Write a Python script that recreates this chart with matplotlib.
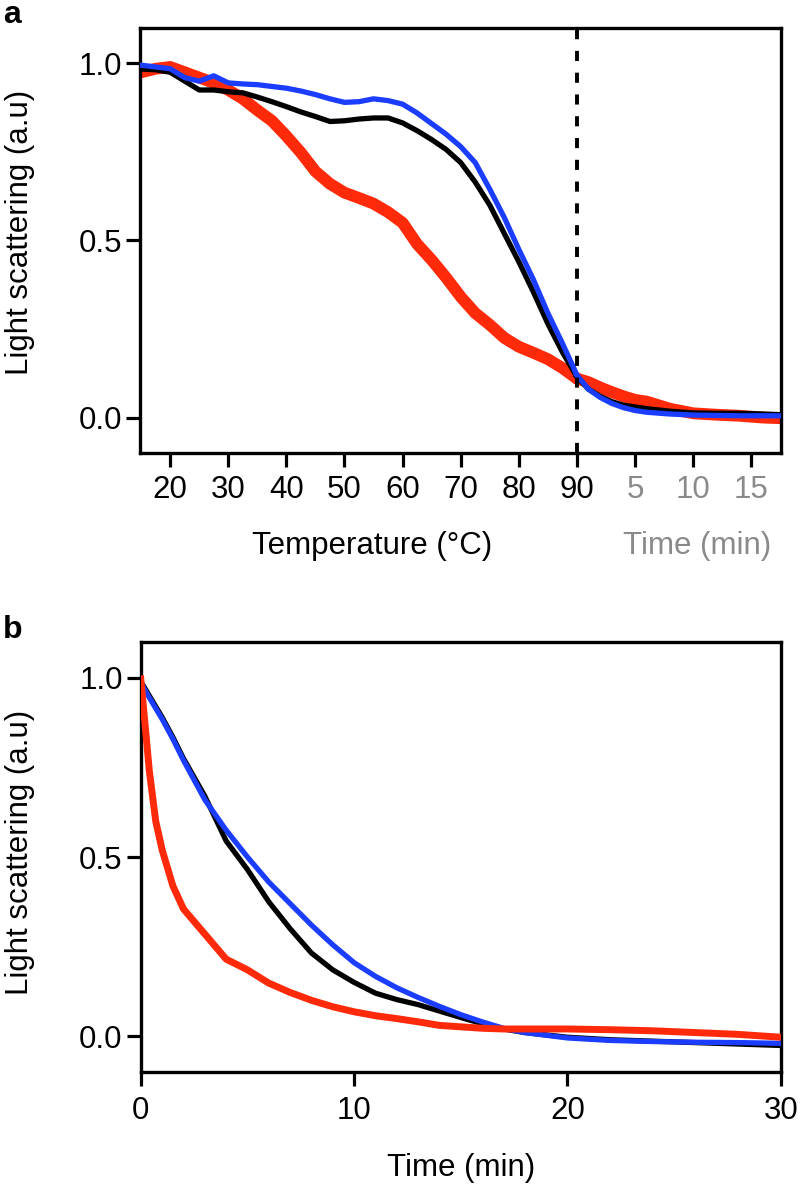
import matplotlib
matplotlib.use("Agg")
import matplotlib.pyplot as plt
import numpy as np

plt.rcParams['font.family'] = ['Liberation Sans', 'DejaVu Sans']

# ---------------- Panel a data ----------------
temp_a = [15, 17.5, 20, 22.5, 25, 27.5, 30, 32.5, 35, 37.5, 40, 42.5, 45, 47.5, 50,
          52.5, 55, 57.5, 60, 62.5, 65, 67.5, 70, 72.5, 75, 77.5, 80, 82.5, 85, 87.5, 90]
blue_a_temp = [0.995, 0.99, 0.985, 0.96, 0.95, 0.965, 0.945, 0.942, 0.94, 0.935, 0.93, 0.922,
               0.912, 0.90, 0.89, 0.892, 0.90, 0.895, 0.885, 0.86, 0.83, 0.80, 0.765, 0.72,
               0.645, 0.565, 0.475, 0.39, 0.295, 0.21, 0.12]
black_a_temp = [0.984, 0.982, 0.975, 0.95, 0.925, 0.925, 0.92, 0.917, 0.905, 0.892, 0.878, 0.863,
                0.85, 0.836, 0.838, 0.843, 0.846, 0.846, 0.832, 0.81, 0.785, 0.757, 0.72, 0.665,
                0.60, 0.52, 0.44, 0.355, 0.265, 0.185, 0.115]
red_a_temp = [0.975, 0.985, 0.99, 0.975, 0.96, 0.945, 0.925, 0.90, 0.868, 0.838, 0.795, 0.748,
              0.695, 0.66, 0.635, 0.62, 0.604, 0.58, 0.55, 0.49, 0.445, 0.395, 0.341, 0.295,
              0.262, 0.225, 0.20, 0.183, 0.165, 0.14, 0.11]

time_a = [0, 1, 2, 3, 4, 5, 6, 8, 10, 12, 14, 16, 17.6]
blue_a_time = [0.12, 0.08, 0.057, 0.04, 0.028, 0.02, 0.015, 0.01, 0.007, 0.006, 0.005, 0.005, 0.005]
black_a_time = [0.115, 0.08, 0.06, 0.045, 0.035, 0.03, 0.025, 0.018, 0.013, 0.012, 0.012, 0.01, 0.008]
red_a_time = [0.11, 0.10, 0.085, 0.072, 0.06, 0.05, 0.045, 0.025, 0.012, 0.008, 0.005, 0.0, -0.002]

temp_ticks = [20, 30, 40, 50, 60, 70, 80, 90]
time_ticks_a = [5, 10, 15]

# ---------------- Panel b data ----------------
time_b = [0, 0.2, 0.4, 0.7, 1, 1.5, 2, 3, 4, 5, 6, 7, 8, 9, 10, 11, 12, 13, 14, 15, 16,
          17, 18, 20, 22, 24, 26, 28, 30]
blue_b = [0.987, 0.965, 0.945, 0.915, 0.885, 0.83, 0.77, 0.66, 0.575, 0.50, 0.43, 0.37, 0.31,
          0.255, 0.205, 0.167, 0.135, 0.108, 0.083, 0.06, 0.04, 0.022, 0.01, -0.005, -0.012,
          -0.015, -0.017, -0.018, -0.02]
black_b = [0.99, 0.97, 0.95, 0.92, 0.89, 0.835, 0.775, 0.67, 0.545, 0.465, 0.375, 0.30, 0.232,
           0.185, 0.15, 0.12, 0.102, 0.088, 0.07, 0.052, 0.035, 0.02, 0.01, -0.003, -0.01,
           -0.014, -0.018, -0.022, -0.026]
red_b = [0.997, 0.87, 0.74, 0.60, 0.52, 0.42, 0.355, 0.285, 0.215, 0.185, 0.148, 0.122, 0.10,
         0.082, 0.068, 0.057, 0.049, 0.04, 0.03, 0.026, 0.022, 0.02, 0.02, 0.02, 0.018, 0.015,
         0.01, 0.005, -0.003]

y_ticks = [0.0, 0.5, 1.0]

RED = '#ff2a0a'
BLUE = '#1a3dff'
BLACK = '#000000'
GRAY = '#8a8a8a'
FS = 22.5


def t2x(t):
    # time axis after 90 °C: 5 min spans the same width as 10 °C
    return 90 + 2 * np.asarray(t, dtype=float)


fig = plt.figure(figsize=(8, 11.87), dpi=100)
ax1 = fig.add_axes([0.175, 0.6184, 0.801, 0.358])
ax2 = fig.add_axes([0.176, 0.0969, 0.800, 0.3622])

for ax in (ax1, ax2):
    for sp in ax.spines.values():
        sp.set_linewidth(2.4)
    ax.tick_params(axis='both', length=10, width=2.3, labelsize=FS, pad=3, direction='out')
    ax.set_ylim(-0.1, 1.1)
    ax.set_yticks(y_ticks)
    ax.set_yticklabels(['0.0', '0.5', '1.0'])

# ----- panel a -----
ax1.plot(temp_a, red_a_temp, color=RED, lw=8.5, solid_capstyle='round', zorder=2)
ax1.plot(t2x(time_a), red_a_time, color=RED, lw=8.5, solid_capstyle='round', zorder=2)
ax1.plot(temp_a, black_a_temp, color=BLACK, lw=3.8, zorder=3)
ax1.plot(t2x(time_a), black_a_time, color=BLACK, lw=3.8, zorder=3)
ax1.plot(temp_a, blue_a_temp, color=BLUE, lw=3.8, zorder=4)
ax1.plot(t2x(time_a), blue_a_time, color=BLUE, lw=3.8, zorder=4)
ax1.axvline(90, color=BLACK, lw=2.8, linestyle=(0, (2.6, 3.0)), zorder=5)

ax1.set_xlim(14.8, t2x(17.55))
xt = list(temp_ticks) + list(t2x(time_ticks_a))
ax1.set_xticks(xt)
ax1.set_xticklabels([str(v) for v in temp_ticks] + [str(v) for v in time_ticks_a])
ax1.tick_params(axis='x', pad=6)
for lab, v in zip(ax1.get_xticklabels(), xt):
    if v > 90:
        lab.set_color(GRAY)

ax1.text(54.7, -0.385, 'Temperature (°C)', fontsize=FS, ha='center', va='baseline',
         transform=ax1.transData, clip_on=False)
ax1.text(110.7, -0.385, 'Time (min)', fontsize=FS, ha='center', va='baseline',
         color=GRAY, transform=ax1.transData, clip_on=False)

# ----- panel b -----
ax2.plot(time_b, black_b, color=BLACK, lw=3.8, zorder=3)
ax2.plot(time_b, blue_b, color=BLUE, lw=3.8, zorder=4)
ax2.plot(time_b, red_b, color=RED, lw=5, zorder=5)
ax2.set_xlim(0, 30)
ax2.set_xticks([0, 10, 20, 30])
ax2.tick_params(axis='x', pad=7)
ax2.set_xlabel('Time (min)', fontsize=FS, labelpad=20)

# y labels
fig.text(20 / 800, 1 - 232 / 1187, 'Light scattering (a.u)', rotation=90, fontsize=FS,
         ha='center', va='center')
fig.text(20 / 800, 1 - 852 / 1187, 'Light scattering (a.u)', rotation=90, fontsize=FS,
         ha='center', va='center')

# panel letters
fig.text(3 / 800, 1 - 23 / 1187, 'a', fontsize=23, fontweight='bold', ha='left', va='baseline')
fig.text(3 / 800, 1 - 638 / 1187, 'b', fontsize=23, fontweight='bold', ha='left', va='baseline')

fig.savefig('out.png', dpi=100)
